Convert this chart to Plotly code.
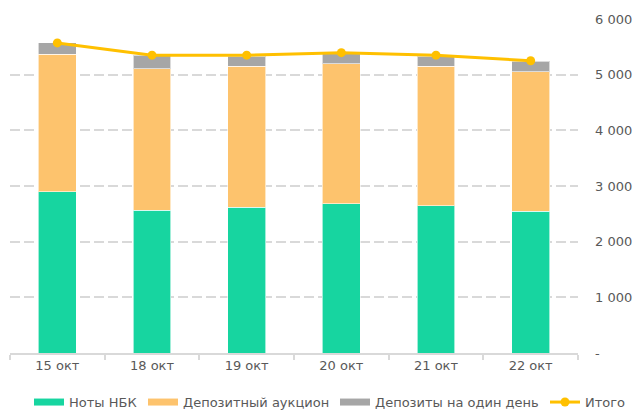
import plotly.graph_objects as go

categories = ["15 окт", "18 окт", "19 окт", "20 окт", "21 окт", "22 окт"]
notes_nbk = [2900, 2560, 2615, 2680, 2645, 2550]
deposit_auction = [2465, 2545, 2540, 2520, 2510, 2505]
overnight_deposits = [205, 245, 180, 180, 180, 190]
total = [5570, 5350, 5350, 5395, 5350, 5250]

ytick_vals = [0, 1000, 2000, 3000, 4000, 5000, 6000]
ytick_text = ["-", "1 000", "2 000", "3 000", "4 000", "5 000", "6 000"]

GREEN = "#17D5A0"
ORANGE = "#FDC36D"
GRAY = "#A6A6A6"
GOLD = "#FFC000"
FONT = "DejaVu Sans"
W, H = 637, 412

legend_names = ["legend", "legend2", "legend3", "legend4"]
legend_left_px = [29, 143, 335, 545]

fig = go.Figure()
series = [("Ноты НБК", notes_nbk, GREEN),
          ("Депозитный аукцион", deposit_auction, ORANGE),
          ("Депозиты на один день", overnight_deposits, GRAY)]
for i, (name, vals, col) in enumerate(series):
    fig.add_trace(go.Bar(x=categories, y=vals, name=name, marker_color=col,
                         marker_line=dict(color="rgba(255,255,255,0.6)", width=1),
                         showlegend=False))
    # legend proxy (wide rectangle symbol)
    fig.add_trace(go.Scatter(x=[None], y=[None], mode="lines", name=name,
                             line=dict(color=col, width=7), legend=legend_names[i]))

fig.add_trace(go.Scatter(x=categories, y=total, name="Итого", mode="lines+markers",
                         line=dict(color=GOLD, width=3),
                         marker=dict(color=GOLD, size=9), legend=legend_names[3]))

legend_common = dict(orientation="h", xref="container", yref="paper",
                     xanchor="left", y=-0.147, yanchor="middle",
                     itemwidth=30, font=dict(size=13, color="#595959"),
                     bgcolor="rgba(0,0,0,0)")
legend_layout = {ln: dict(legend_common, x=px / W) for ln, px in zip(legend_names, legend_left_px)}

fig.update_layout(
    width=W, height=H,
    barmode="stack", bargap=0.6,
    plot_bgcolor="white", paper_bgcolor="white",
    margin=dict(l=10, r=59, t=19, b=59, autoexpand=False),
    font=dict(family=FONT, size=13, color="#595959"),
    showlegend=True,
    **legend_layout,
)
fig.update_xaxes(showline=True, linecolor="#d9d9d9", linewidth=1.5, automargin=False,
                 ticks="outside", tickson="boundaries", ticklen=5, tickcolor="#d9d9d9",
                 tickwidth=1.5,
                 showgrid=False, tickfont=dict(size=13, color="#595959"))
fig.update_yaxes(side="right", range=[0, 6000], tickvals=ytick_vals, ticktext=ytick_text,
                 automargin=False,
                 showgrid=True, gridcolor="#d9d9d9", gridwidth=1.5, griddash="10px,4px",
                 zeroline=False, ticklabelstandoff=16,
                 tickfont=dict(size=13, color="#595959"))

fig.write_html("out.html", config={"displayModeBar": False},
               post_script="document.body.style.margin='0px';document.body.style.overflow='hidden';")
